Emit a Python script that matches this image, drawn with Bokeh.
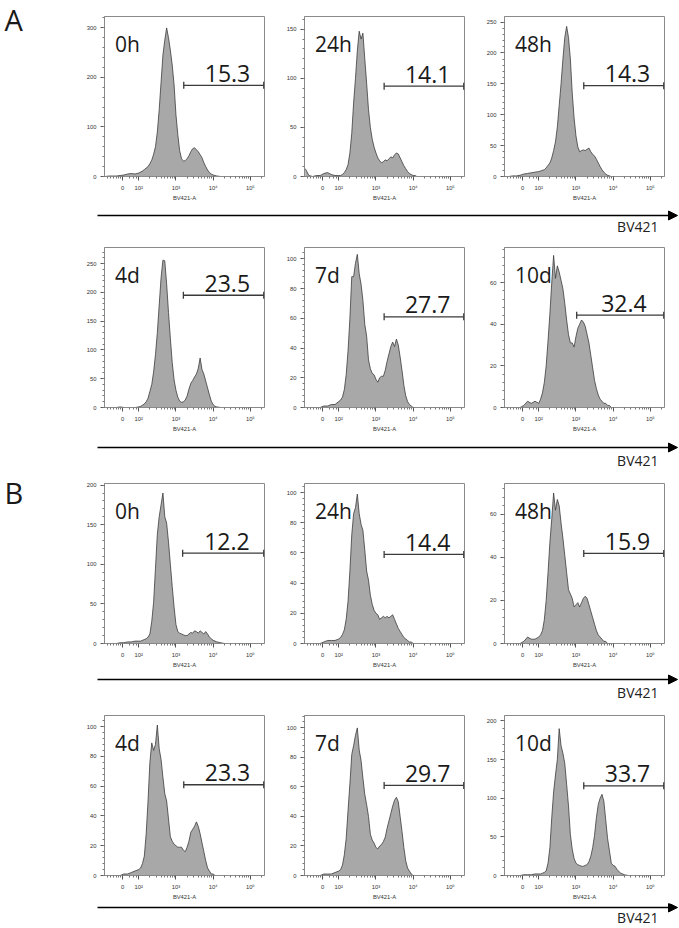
import numpy as np
from bokeh.plotting import figure
from bokeh.layouts import column, row
from bokeh.models import Range1d, FixedTicker, SingleIntervalTicker, Label, Arrow, NormalHead
from bokeh.core.properties import value
from bokeh.embed import file_html
from bokeh.resources import INLINE

# ---------------- data ----------------
# BV421 display position on the biexponential axis (2 = 10^2, 3 = 10^3 ...; 1.57 marks 0)
bv421_pos = [1.10, 1.20, 1.30, 1.40, 1.50, 1.60, 1.70, 1.80, 1.90, 2.00,
             2.05, 2.10, 2.15, 2.20, 2.25, 2.30, 2.35, 2.40, 2.45, 2.50,
             2.55, 2.60, 2.65, 2.70, 2.75, 2.80, 2.85, 2.90, 2.95, 3.00,
             3.05, 3.10, 3.15, 3.20, 3.25, 3.30, 3.35, 3.40, 3.45, 3.50,
             3.55, 3.60, 3.65, 3.70, 3.75, 3.80, 3.85, 3.90, 3.95, 4.00,
             4.05, 4.10, 4.20, 4.30, 4.40, 5.35]

A_0h = [0, 1, 1, 1, 2, 3, 5, 6, 5, 7,
        9, 11, 14, 17, 20, 26, 33, 45, 60, 90,
        135, 190, 245, 275, 300, 280, 255, 225, 185, 125,
        85, 52, 36, 31, 32, 36, 42, 50, 56, 58,
        54, 50, 44, 38, 28, 20, 13, 8, 5, 3,
        2, 1, 0, 0, 0, 0]
A_24h = [8, 1, 0, 1, 1, 3, 4, 2, 1, 1,
         1, 2, 4, 7, 12, 24, 44, 75, 100, 128,
         148, 140, 146, 120, 95, 68, 50, 38, 30, 24,
         19, 16, 14, 15, 17, 16, 18, 20, 19, 22,
         24, 23, 19, 15, 11, 8, 5, 3, 2, 1,
         1, 0, 0, 0, 0, 0]
A_48h = [0, 0, 1, 1, 2, 4, 5, 6, 7, 8,
         9, 10, 11, 14, 18, 22, 30, 42, 56, 80,
         115, 150, 190, 225, 243, 225, 190, 135, 95, 66,
         48, 40, 42, 43, 42, 44, 46, 40, 36, 33,
         28, 22, 16, 11, 7, 4, 2, 1, 0, 0,
         0, 0, 0, 0, 0, 0]
A_4d = [0, 0, 0, 0, 1, 0, 0, 0, 0, 1,
        2, 4, 6, 10, 16, 28, 40, 62, 92, 130,
        178, 225, 256, 255, 215, 165, 120, 78, 48, 30,
        18, 11, 9, 10, 13, 20, 32, 42, 47, 53,
        58, 68, 86, 66, 58, 46, 34, 22, 11, 5,
        2, 1, 0, 0, 0, 0]
A_7d = [0, 0, 0, 0, 0, 1, 1, 2, 2, 4,
        5, 7, 12, 22, 38, 60, 88, 88, 97, 103,
        90, 83, 72, 56, 48, 32, 26, 23, 22, 19,
        17, 20, 21, 21, 25, 31, 36, 41, 44, 41,
        46, 42, 34, 25, 15, 8, 4, 2, 1, 0,
        0, 0, 0, 0, 0, 0]
A_10d = [0, 0, 0, 0, 0, 1, 3, 2, 3, 2,
         4, 7, 12, 20, 32, 45, 60, 73, 62, 68,
         65, 61, 57, 50, 42, 35, 31, 31, 29, 34,
         38, 40, 42, 41, 39, 35, 31, 25, 19, 13,
         9, 6, 4, 3, 2, 2, 1, 1, 0, 0,
         0, 0, 0, 0, 0, 0]
B_0h = [0, 0, 0, 0, 1, 1, 2, 2, 3, 3,
        3, 4, 5, 6, 8, 12, 28, 52, 95, 138,
        160, 175, 190, 160, 152, 128, 100, 72, 46, 24,
        15, 13, 12, 11, 10, 10, 12, 14, 13, 16,
        15, 13, 16, 14, 12, 15, 12, 8, 6, 4,
        3, 2, 1, 0, 0, 0]
B_24h = [0, 0, 0, 0, 0, 1, 2, 2, 2, 3,
         4, 6, 9, 16, 28, 48, 72, 86, 90, 99,
         86, 79, 75, 62, 48, 42, 32, 26, 22, 20,
         19, 16, 17, 18, 17, 18, 17, 18, 19, 16,
         13, 10, 8, 6, 4, 3, 2, 1, 1, 0,
         0, 0, 0, 0, 0, 0]
B_48h = [0, 0, 0, 0, 0, 1, 3, 2, 2, 3,
         4, 6, 11, 20, 33, 47, 58, 70, 62, 67,
         64, 56, 49, 41, 33, 25, 23, 21, 17, 18,
         19, 17, 19, 21, 22, 21, 18, 15, 12, 9,
         6, 4, 3, 2, 1, 1, 0, 0, 0, 0,
         0, 0, 0, 0, 0, 0]
B_4d = [0, 0, 0, 0, 0, 1, 1, 2, 3, 4,
        5, 8, 13, 28, 50, 76, 89, 84, 88, 101,
        85, 78, 66, 55, 50, 38, 26, 23, 21, 20,
        19, 19, 19, 17, 16, 19, 23, 29, 31, 33,
        36, 33, 28, 22, 16, 10, 5, 3, 1, 1,
        0, 0, 0, 0, 0, 0]
B_7d = [0, 0, 0, 0, 0, 1, 1, 1, 2, 3,
        4, 7, 14, 25, 44, 62, 82, 88, 95, 100,
        85, 78, 66, 55, 48, 40, 28, 24, 22, 19,
        18, 20, 21, 23, 26, 32, 37, 42, 47, 51,
        53, 50, 40, 30, 19, 10, 5, 3, 1, 0,
        0, 0, 0, 0, 0, 0]
B_10d = [0, 0, 0, 0, 0, 1, 1, 1, 2, 2,
         2, 3, 4, 6, 16, 36, 75, 108, 130, 150,
         190, 168, 158, 145, 118, 90, 53, 34, 22, 16,
         14, 13, 12, 12, 13, 14, 18, 25, 36, 52,
         75, 92, 100, 105, 96, 72, 48, 32, 16, 13,
         12, 8, 3, 1, 0, 0]

time_labels = ["0h", "24h", "48h", "4d", "7d", "10d"]
series_A = [A_0h, A_24h, A_48h, A_4d, A_7d, A_10d]
series_B = [B_0h, B_24h, B_48h, B_4d, B_7d, B_10d]
pct_A = ["15.3", "14.1", "14.3", "23.5", "27.7", "32.4"]
pct_B = ["12.2", "14.4", "15.9", "23.3", "29.7", "33.7"]
ymax_A = [323, 163, 259, 278, 107.6, 76.8]
ymax_B = [202, 106, 74.4, 107.4, 108.4, 207]
ystep_A = [100, 50, 50, 50, 20, 20]
ystep_B = [50, 20, 20, 20, 20, 50]
gate_lo_A = [3.21, 3.22, 3.21, 3.20, 3.22, 3.02]
gate_lo_B = [3.18, 3.22, 3.21, 3.21, 3.22, 3.21]
gate_y_A = [184, 92, 147, 195, 61, 44.3]
gate_y_B = [114, 59, 41.9, 60.9, 61, 116]
GATE_HI = 5.36

x_tick_pos = [1.57, 2, 3, 4, 5]
x_tick_text = ["0", "10²", "10³", "10⁴", "10⁵"]
x_minor = [1.15, 1.25, 1.33, 1.40, 1.46, 1.51, 1.75, 1.86, 1.93]
for d in (2, 3, 4):
    x_minor += [round(d + np.log10(k), 3) for k in range(2, 10)]
x_minor += [round(5 + np.log10(2), 3)]

FONT = value("Open Sans")
LEAD_W = 65
TOTAL_H = 927
STRIP_W = 679 - LEAD_W


def hist_panel(vals, ymax, ystep, gate_lo, gate_y, pct, tlabel, top, bottom):
    p = figure(width=200, height=top + 160 + bottom,
               x_range=Range1d(1.08, 5.38), y_range=Range1d(0, ymax),
               min_border_left=39, min_border_right=1, min_border_top=top,
               min_border_bottom=bottom, toolbar_location=None,
               output_backend="svg", x_axis_label="BV421-A")
    p.xgrid.visible = False
    p.ygrid.visible = False
    p.outline_line_color = "#8a8a8a"
    p.outline_line_width = 1
    p.background_fill_color = "white"
    p.border_fill_color = "white"

    p.xaxis.ticker = FixedTicker(ticks=x_tick_pos, minor_ticks=x_minor)
    p.xaxis.major_label_overrides = dict(zip(x_tick_pos, x_tick_text))
    p.yaxis.ticker = SingleIntervalTicker(interval=ystep, num_minor_ticks=5)
    for ax in (p.xaxis[0], p.yaxis[0]):
        ax.axis_line_color = "#8a8a8a"
        ax.major_tick_line_color = "#555555"
        ax.minor_tick_line_color = "#777777"
        ax.major_tick_out = 4
        ax.major_tick_in = 0
        ax.minor_tick_out = 2
        ax.minor_tick_in = 0
        ax.major_label_text_font_size = "5.8px"
        ax.major_label_text_font = "Liberation Sans"
        ax.major_label_text_color = "#333333"
    p.xaxis.major_label_standoff = 4
    p.yaxis.major_label_standoff = 4
    p.xaxis.axis_label_standoff = 1
    p.xaxis.axis_label_text_font_size = "5.8px"
    p.xaxis.axis_label_text_font = "Liberation Sans"
    p.xaxis.axis_label_text_font_style = "normal"
    p.xaxis.axis_label_text_color = "#333333"

    p.varea(x=bv421_pos, y1=0, y2=vals, fill_color="#a8a8a8")
    p.line(x=bv421_pos, y=vals, line_color="#3c3c3c", line_width=0.8)

    p.segment(x0=[gate_lo], y0=[gate_y], x1=[GATE_HI], y1=[gate_y],
              line_color="#3a3a3a", line_width=1.3)
    p.scatter(x=[gate_lo, GATE_HI], y=[gate_y, gate_y], marker="dash",
              angle=np.pi / 2, size=7, line_color="#3a3a3a", line_width=1.3)

    p.text(x=[(gate_lo + GATE_HI) / 2 + 0.1], y=[gate_y + 0.075 * ymax], text=[pct],
           text_align="center", text_baseline="alphabetic",
           text_font=FONT, text_font_size="23px", text_color="#1a1a1a")
    p.text(x=[1.36], y=[ymax * 0.827], text=[tlabel],
           text_align="left", text_baseline="alphabetic",
           text_font=FONT, text_font_size="21px", text_color="#1a1a1a")
    return p


def lead_column():
    p = figure(width=LEAD_W, height=TOTAL_H, x_range=Range1d(0, LEAD_W),
               y_range=Range1d(TOTAL_H, 0), toolbar_location=None, output_backend="svg",
               min_border=0, x_axis_location=None, y_axis_location=None,
               outline_line_color=None)
    p.xgrid.visible = False
    p.ygrid.visible = False
    for letter, base in (("A", 19), ("B", 492)):
        p.add_layout(Label(x=4, y=base, text=letter, text_align="left",
                           text_baseline="alphabetic", text_font="Open Sans",
                           text_font_size="29px", text_color="#1a1a1a"))
    return p


def arrow_strip(h, ay, ty):
    W = STRIP_W
    p = figure(width=W, height=h, x_range=Range1d(0, W), y_range=Range1d(h, 0),
               toolbar_location=None, output_backend="svg", min_border=0,
               x_axis_location=None, y_axis_location=None, outline_line_color=None)
    p.xgrid.visible = False
    p.ygrid.visible = False
    p.add_layout(Arrow(end=NormalHead(size=9, fill_color="black", line_color="black"),
                       x_start=32, y_start=ay, x_end=W - 2, y_end=ay,
                       line_width=1.6, line_color="black"))
    p.add_layout(Label(x=W - 21, y=ty, text="BV421", text_align="right",
                       text_baseline="alphabetic", text_font="Open Sans",
                       text_font_size="14px", text_color="#222222"))
    return p


def panel_row(series, ymaxs, ysteps, gates_lo, gates_y, pcts, idx, top, bottom):
    figs = [hist_panel(series[i], ymaxs[i], ysteps[i], gates_lo[i], gates_y[i],
                       pcts[i], time_labels[i], top, bottom) for i in idx]
    return row(*figs)


rA1 = panel_row(series_A, ymax_A, ystep_A, gate_lo_A, gate_y_A, pct_A, [0, 1, 2], 16, 28)
rA2 = panel_row(series_A, ymax_A, ystep_A, gate_lo_A, gate_y_A, pct_A, [3, 4, 5], 5, 28)
rB1 = panel_row(series_B, ymax_B, ystep_B, gate_lo_B, gate_y_B, pct_B, [0, 1, 2], 5, 28)
rB2 = panel_row(series_B, ymax_B, ystep_B, gate_lo_B, gate_y_B, pct_B, [3, 4, 5], 5, 28)

panels = column(rA1, arrow_strip(38, 11, 22),
                rA2, arrow_strip(43, 12, 25),
                rB1, arrow_strip(39, 8, 21),
                rB2, arrow_strip(24, 4, 14))

layout = row(lead_column(), panels)

open("out.html", "w").write(file_html(layout, INLINE))
